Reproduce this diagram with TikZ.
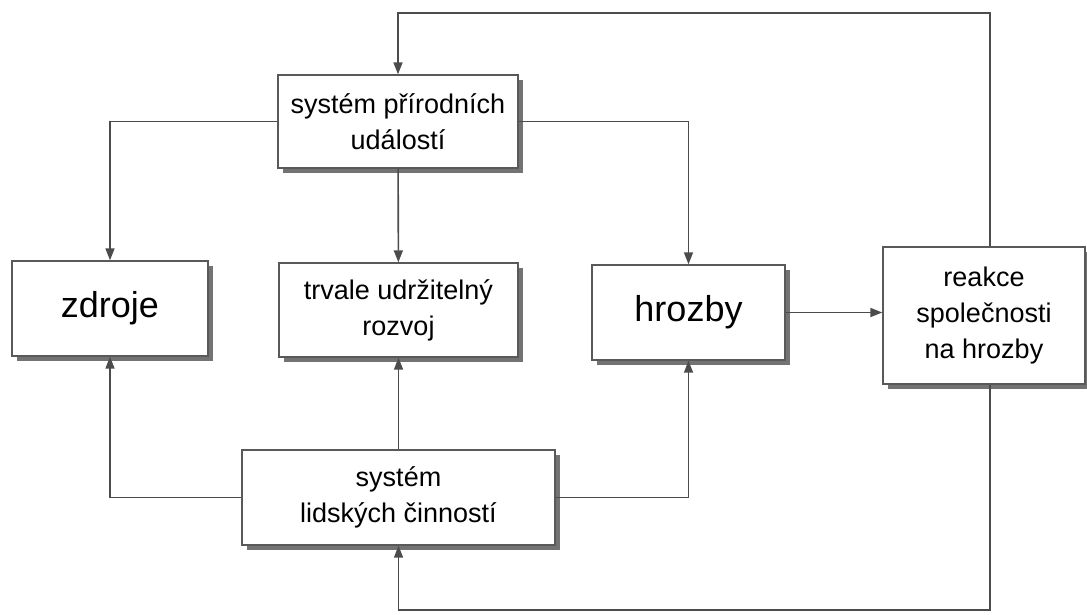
\documentclass[tikz,border=0pt]{standalone}
\usepackage{fontspec}
\setmainfont{Liberation Sans}
\usetikzlibrary{arrows.meta,shadows}

\begin{document}
\begin{tikzpicture}
  [x=1pt, y=-1pt,
   box/.style={draw=black!65, line width=1.4pt, fill=white, align=center,
     inner sep=0pt, font=\fontsize{27}{36}\selectfont,
     drop shadow={shadow xshift=5pt, shadow yshift=-5pt, fill=black!55, opacity=1}},
   bigbox/.style={box, font=\fontsize{36}{40}\selectfont},
   link/.style={draw=black!70, line width=1.6pt, -{Triangle[length=12pt,width=9pt]}}]
  \useasboundingbox (0,0) rectangle (1087,614);

  \node[box, minimum width=240, minimum height=93] (nature) at (398, 121.5) {systém přírodních\\událostí};
  \node[bigbox, minimum width=196, minimum height=95] (zdroje) at (110, 308.5) {zdroje};
  \node[box, minimum width=239, minimum height=94] (rozvoj) at (398.5, 310) {trvale udržitelný\\rozvoj};
  \node[bigbox, minimum width=193, minimum height=95] (hrozby) at (688.5, 312.5) {hrozby};
  \node[box, minimum width=202, minimum height=137] (reakce) at (984, 315.5) {reakce\\společnosti\\na hrozby};
  \node[box, minimum width=313, minimum height=95] (lidske) at (398.5, 497.5) {systém\\lidských činností};

  \coordinate (toploop) at (990, 13);
  \coordinate (botloop) at (990, 610);

  \foreach \from/\to in {nature.west/zdroje.north,nature.east/hrozby.north,
    lidske.west/zdroje.south,lidske.east/hrozby.south}
  \draw[link] (\from) -| (\to);
  \draw[link] (nature) -- (rozvoj);
  \draw[link] (lidske) -- (rozvoj);
  \draw[link] (hrozby.east) -- (hrozby.east -| reakce.west);
  \draw[link] (reakce.north -| toploop) -- (toploop) -| (nature.north);
  \draw[link] (reakce.south -| botloop) -- (botloop) -| (lidske.south);
\end{tikzpicture}
\end{document}
